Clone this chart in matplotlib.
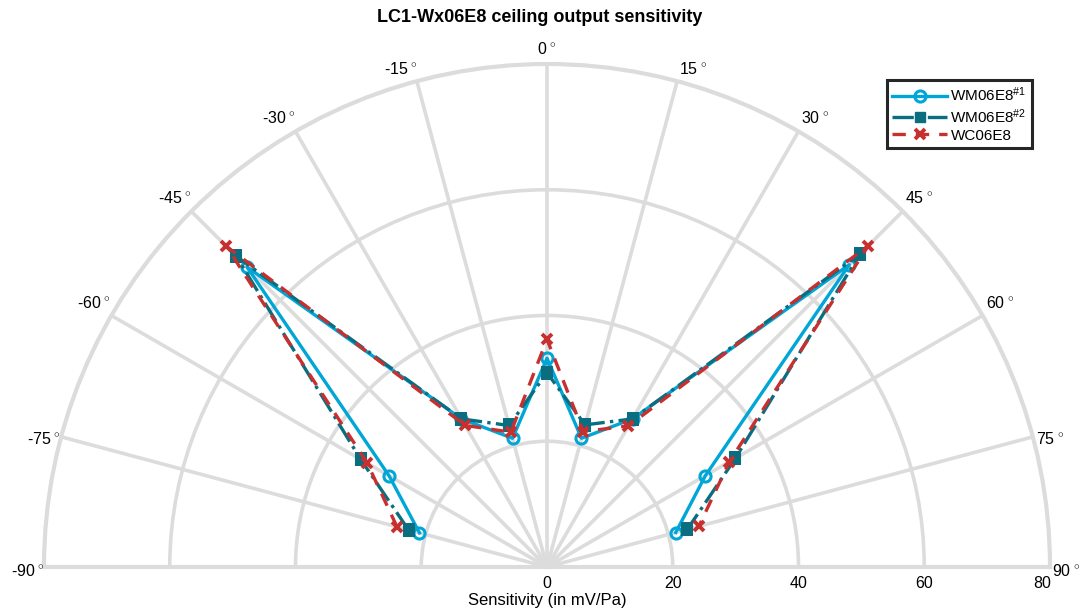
import numpy as np
import matplotlib
matplotlib.use("Agg")
import matplotlib.pyplot as plt
from matplotlib.lines import Line2D

plt.rcParams['font.family'] = ['Liberation Sans', 'DejaVu Sans']
plt.rcParams['mathtext.fontset'] = 'custom'
plt.rcParams['mathtext.rm'] = 'Liberation Sans'
plt.rcParams['mathtext.it'] = 'Liberation Sans:italic'
plt.rcParams['mathtext.bf'] = 'Liberation Sans:bold'

# ---- data ----
angles_deg = [-75, -60, -45, -30, -15, 0, 15, 30, 45, 60, 75]
wm1 = [21.0, 29.0, 67.5, 27.2, 21.2, 33.2, 21.2, 27.2, 68.0, 29.1, 21.2]
wm2 = [22.8, 34.2, 69.9, 27.2, 23.3, 30.9, 23.4, 27.2, 70.3, 34.6, 23.1]
wc = [24.7, 33.0, 72.1, 26.0, 22.2, 36.2, 22.3, 25.9, 72.3, 33.5, 25.0]
series_labels = ['WM06E8$^{\\#1}$', 'WM06E8$^{\\#2}$', 'WC06E8']
theta_ticks = list(range(-90, 91, 15))
r_ticks = [0, 20, 40, 60, 80]
title = 'LC1-Wx06E8 ceiling output sensitivity'
xlabel = 'Sensitivity (in mV/Pa)'

c1 = '#00A6D6'
c2 = '#0B6E80'
c3 = '#C8302F'
grid_c = '#DCDCDC'

W, H = 1081, 612
fig = plt.figure(figsize=(W / 100, H / 100), dpi=100)
cx, cy, R = 547, 567, 503          # target centre (from top) and radius in px
tcx, tcy = cx, H - cy              # centre in matplotlib px (from bottom)

pos = [(cx - R) / W, (tcy - R) / H, 2 * R / W, 2 * R / H]
ax = fig.add_axes(pos, projection='polar')
ax.set_theta_zero_location('N')
ax.set_theta_direction(-1)
ax.set_thetamin(-90)
ax.set_thetamax(90)
ax.set_rlim(0, 80)

ax.set_thetagrids(theta_ticks, labels=[''] * len(theta_ticks))
ax.set_rgrids([20, 40, 60], labels=[''] * 3)
ax.grid(True, color=grid_c, linewidth=2.6)
for s in ax.spines.values():
    s.set_color(grid_c)
    s.set_linewidth(3)
ax.tick_params(length=0)

# calibrate axes position so that centre and radius land where wanted
for _ in range(3):
    fig.canvas.draw()
    c = ax.transData.transform((0, 0))
    e = ax.transData.transform((np.pi / 2, 80))
    Ra = e[0] - c[0]
    p = ax.get_position()
    s = R / Ra
    fx = (c[0] / W - p.x0) / p.width
    fy = (c[1] / H - p.y0) / p.height
    nw, nh = p.width * s, p.height * s
    nx0 = tcx / W - fx * nw
    ny0 = tcy / H - fy * nh
    ax.set_position([nx0, ny0, nw, nh])

th = np.deg2rad(angles_deg)
ax.plot(th, wm1, '-', color=c1, lw=2.4, marker='o', ms=8, mfc='none', mew=2.2, zorder=3)
ax.plot(th, wm2, '-.', color=c2, lw=2.4, marker='s', ms=7, mfc=c2, mec=c2, mew=1.5, zorder=4)
ax.plot(th, wc, '--', color=c3, lw=2.4, marker='x', ms=7, mew=2.8, zorder=5, dashes=(4, 3))

# theta tick labels: placed just outside the outer ring (label layout offsets in px)
lab_off = {0: (0, 519), 15: (146, 499), 30: (268, 449), 45: (372, 369),
           60: (453, 264), 75: (503, 128), 90: (519, -4)}
for t in theta_ticks:
    ox, oy = lab_off[abs(t)]
    ox = ox * np.sign(t) if t != 0 else 0
    x = cx + ox
    yb = cy - oy + 5.5   # baseline
    fig.text(x / W, 1 - yb / H, f'{t}$^{{\\,\\circ}}$', ha='center', va='baseline',
             fontsize=11.5)

# radial labels along baseline (right side)
for r in r_ticks:
    x = cx + r / 80 * R
    if r == 80:
        x -= 8
    fig.text(x / W, 1 - 583 / H, str(r), ha='center', va='center', fontsize=11.5)

fig.text(cx / W, 1 - 600 / H, xlabel, ha='center', va='center', fontsize=12)
fig.text(540 / W, 1 - 17 / H, title, ha='center', va='center', fontsize=13, fontweight='bold')

handles = [
    Line2D([], [], color=c1, lw=2.4, marker='o', ms=8, mfc='none', mew=2.2),
    Line2D([], [], color=c2, lw=2.4, ls='-.', marker='s', ms=7, mfc=c2),
    Line2D([], [], color=c3, lw=2.4, ls='--', marker='x', ms=7, mew=2.8, dashes=(4, 3)),
]
leg = fig.legend(handles, series_labels, loc='upper right', bbox_to_anchor=(1032 / W, 1 - 80 / H),
                 borderaxespad=0, fancybox=False, framealpha=1, edgecolor='#262626',
                 fontsize=11, handlelength=3.6, handletextpad=0.2, labelspacing=0.2,
                 borderpad=0.35, numpoints=1)
leg.get_frame().set_linewidth(2.2)

fig.savefig('out.png', dpi=100)
